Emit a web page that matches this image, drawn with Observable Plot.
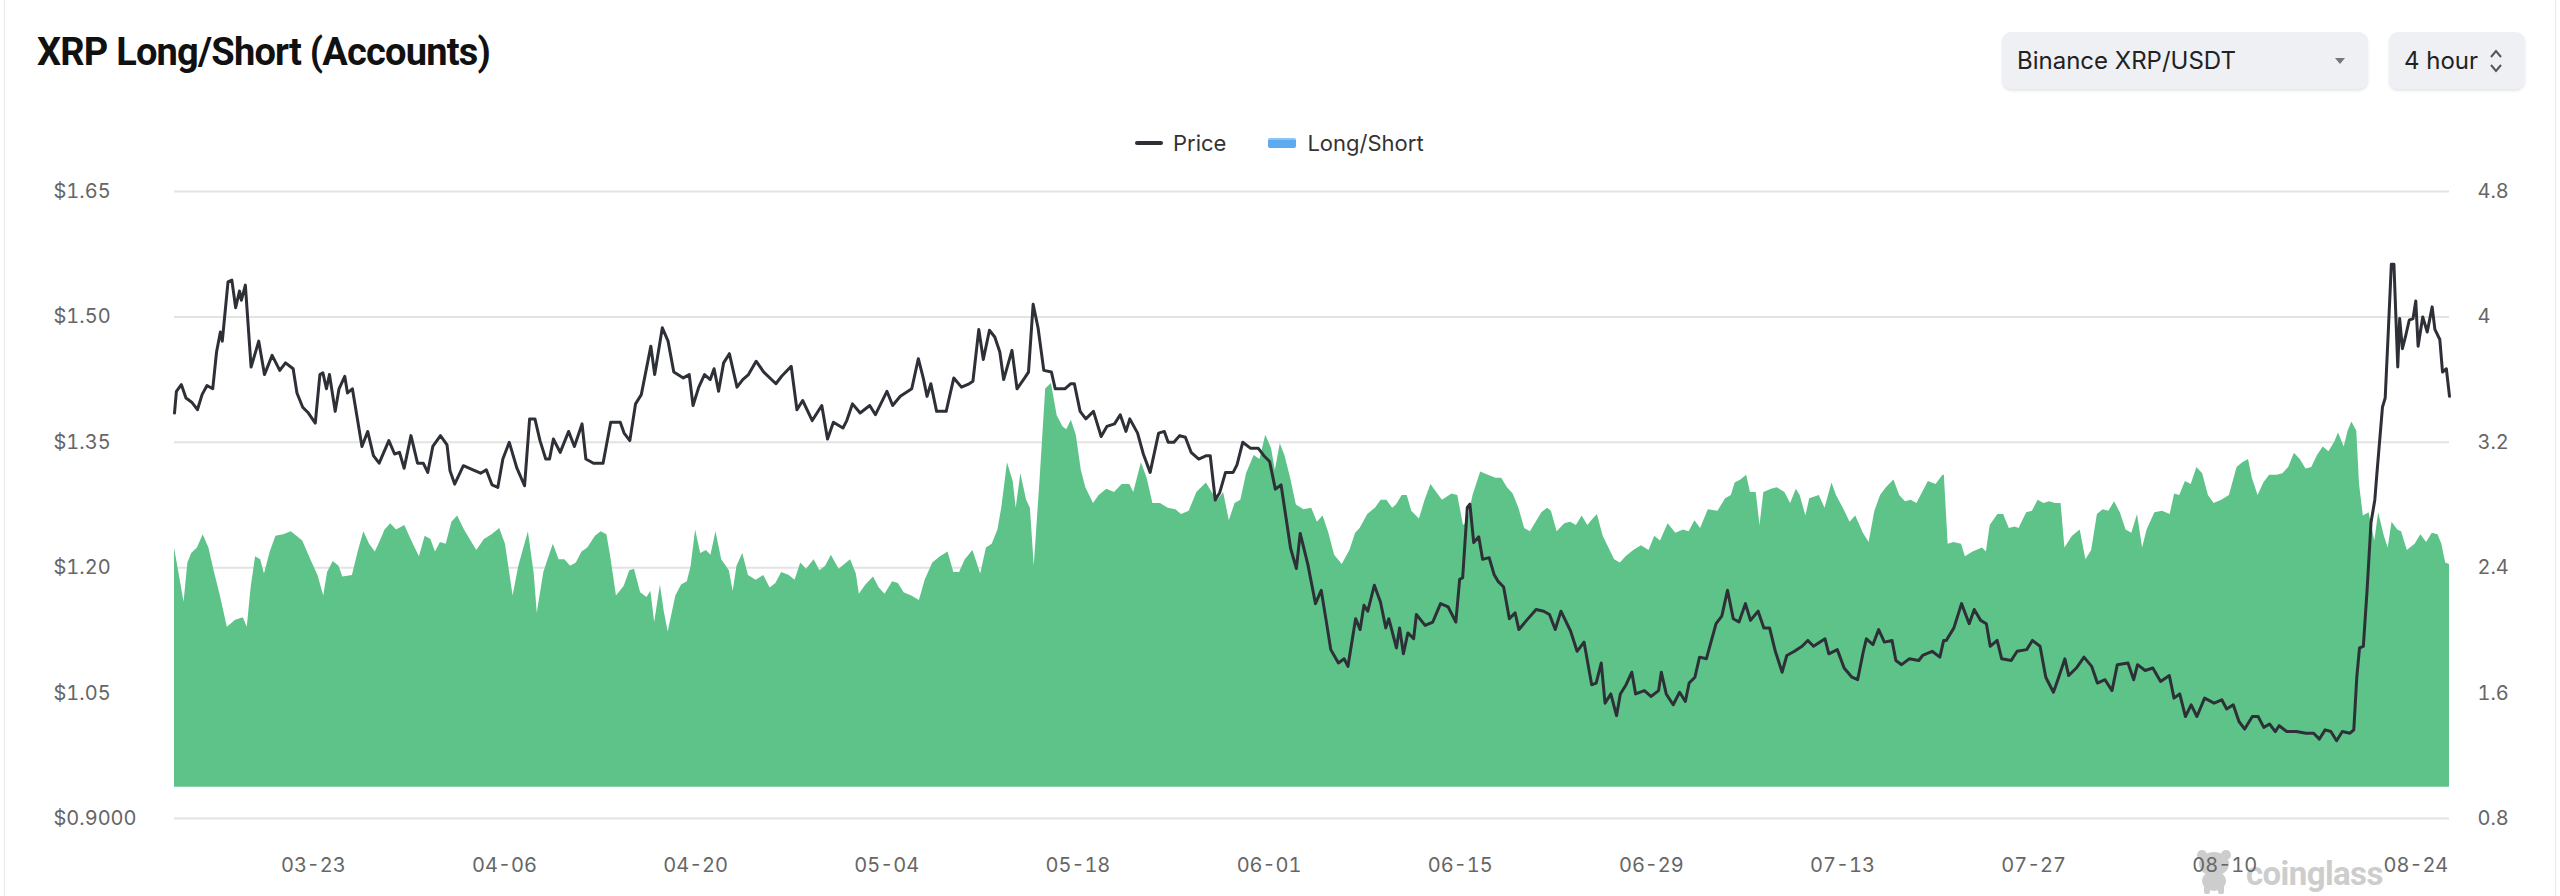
<!DOCTYPE html>
<html>
<head>
<meta charset="utf-8">
<script src="https://cdn.jsdelivr.net/npm/d3@7"></script>
<script src="https://cdn.jsdelivr.net/npm/@observablehq/plot@0.6"></script>
<style>
  html, body { margin: 0; padding: 0; background: #fff; }
  #page { position: relative; width: 2560px; height: 896px; overflow: hidden; font-family: Inter, "Noto Sans", sans-serif; }
  .card { position: absolute; left: 4px; right: 4px; top: -20px; bottom: -20px; border: 1px solid #e9e9e9; border-radius: 12px; }
  .title { position: absolute; left: 37px; top: 33px; font-family: Roboto, sans-serif; font-weight: 700; font-size: 38px; line-height: 38px; letter-spacing: -0.8px; color: #111; white-space: nowrap; }
  .sel { position: absolute; top: 32px; height: 57px; background: #eef0f3; border-radius: 9px; box-shadow: 0 2px 3px rgba(0,0,0,0.10); box-sizing: border-box; display: flex; align-items: center; font-size: 24px; color: #222; }
  .sel1 { left: 2002px; width: 366px; padding-left: 15px; }
  .sel2 { left: 2389px; width: 136px; padding-left: 15px; }
  .caret { position: absolute; left: 333px; top: 26px; width: 0; height: 0; border-left: 5px solid transparent; border-right: 5px solid transparent; border-top: 6px solid #777; }
  .chev { position: absolute; left: 100px; top: 16px; }
  .legend { position: absolute; top: 132px; left: 1135px; height: 22px; display: flex; align-items: center; font-size: 22px; color: #333; white-space: nowrap; }
  .lg-line { width: 28px; height: 4px; background: #2d3037; border-radius: 2px; margin-right: 10px; }
  .lg-area { width: 28px; height: 10px; background: #5eaaf0; border-top: 2px solid #8cc4f6; box-sizing: border-box; border-radius: 2px; margin-left: 42px; margin-right: 11px; }
  #chart { position: absolute; left: 0; top: 160px; }
  .wm { position: absolute; left: 2192px; top: 850px; display: flex; align-items: flex-end; }
  .wm-text { font-family: Roboto, sans-serif; font-weight: 700; font-size: 33px; line-height: 33px; color: #cdcdcd; letter-spacing: -0.6px; margin-left: 10px; margin-bottom: 4px; }
</style>
</head>
<body>
<div id="page">
  <div class="card"></div>
  <div class="wm">
    <svg width="44" height="44" viewBox="0 0 44 44">
      <ellipse cx="22" cy="14" rx="15" ry="12" fill="#cdcdcd"/>
      <circle cx="10" cy="5" r="5" fill="#cdcdcd"/>
      <circle cx="34" cy="5" r="5" fill="#cdcdcd"/>
      <ellipse cx="22" cy="31" rx="12" ry="10" fill="#cdcdcd"/>
      <rect x="12" y="36" width="6" height="8" rx="2" fill="#cdcdcd"/>
      <rect x="26" y="36" width="6" height="8" rx="2" fill="#cdcdcd"/>
    </svg>
    <div class="wm-text">coinglass</div>
  </div>
  <div class="title">XRP Long/Short (Accounts)</div>
  <div class="sel sel1"><span>Binance XRP/USDT</span><span class="caret"></span></div>
  <div class="sel sel2"><span>4 hour</span>
    <svg class="chev" width="14" height="26" viewBox="0 0 14 26">
      <path d="M2 9 L7 3 L12 9" fill="none" stroke="#555" stroke-width="2"/>
      <path d="M2 17 L7 23 L12 17" fill="none" stroke="#555" stroke-width="2"/>
    </svg>
  </div>
  <div class="legend">
    <span class="lg-line"></span><span>Price</span>
    <span class="lg-area"></span><span>Long/Short</span>
  </div>
  <div id="chart"></div>
</div>
<script>
// ---- Data (time in days relative to 2025-03-23 00:00 UTC, 4-hour candles sampled at visible turning points) ----
const priceDay = [
-10.17,-10.03,-9.67,-9.33,-8.91,-8.49,-8.15,-7.79,-7.37,-7.09,-6.81,-6.67,-6.25,-5.97,-5.69,-5.41,-5.27,-4.98,-4.56,-4.0,
-3.58,-3.02,-2.46,-2.04,-1.48,-1.2,-0.78,-0.36,0.14,0.48,0.7,0.96,1.18,1.6,1.88,2.3,2.5,2.86,3.56,3.98,
4.4,4.82,5.53,5.95,6.31,6.65,7.15,7.63,8.05,8.38,8.75,9.31,9.79,10.01,10.35,10.99,11.69,12.25,12.67,13.09,
13.51,13.88,14.35,14.91,15.47,15.84,16.23,16.6,17.02,17.3,17.58,18.08,18.7,19.12,19.68,19.96,20.52,21.22,21.78,22.48,
22.76,23.18,23.6,24.02,24.72,25.0,25.56,25.98,26.4,27.1,27.53,27.81,28.23,28.65,29.07,29.35,29.68,30.05,30.47,31.03,
31.45,31.87,32.43,32.99,33.88,34.3,35.0,35.42,35.84,36.54,37.24,37.66,38.09,38.79,39.07,39.49,40.05,40.75,41.17,42.01,
42.43,42.99,43.83,44.31,44.67,44.95,45.23,45.65,46.35,46.91,47.47,48.03,48.31,48.74,49.07,49.52,49.91,50.28,50.56,51.17,
51.54,52.1,52.38,52.72,53.08,53.5,54.06,54.34,55.04,55.46,55.74,56.16,56.58,57.14,57.7,58.12,58.68,59.1,59.52,59.8,
60.37,60.79,61.29,61.91,62.33,62.61,63.03,63.45,63.87,64.29,64.85,65.41,65.69,66.06,66.39,66.81,67.37,67.65,68.07,68.63,
69.2,69.62,70.04,70.46,70.88,71.58,72.0,72.28,72.84,73.4,73.82,74.18,74.52,75.08,75.5,75.78,76.34,76.67,76.95,77.23,
77.71,78.16,78.55,78.77,79.33,79.56,79.84,80.17,80.59,80.79,81.43,81.99,82.56,83.12,83.68,83.96,84.18,84.52,84.71,84.99,
85.36,85.64,86.12,86.48,86.76,87.18,87.6,88.02,88.3,88.86,89.56,90.12,90.54,90.96,91.38,92.09,92.56,93.07,93.63,93.96,
94.33,94.61,95.03,95.45,95.73,96.15,96.57,96.85,97.49,97.97,98.53,98.73,99.09,99.6,100.07,100.49,100.77,101.19,101.53,102.03,
102.74,103.16,103.58,104.0,104.42,104.89,105.26,105.82,106.24,106.66,107.08,107.58,107.92,108.48,109.04,109.46,109.88,110.72,111.0,111.62,
112.12,112.69,113.11,113.53,113.75,114.23,114.65,115.07,115.63,115.91,116.33,116.89,117.59,117.87,118.57,119.13,119.41,119.6,120.16,120.72,
121.28,121.65,122.12,122.54,122.82,123.33,123.66,124.36,124.79,125.49,125.91,126.47,126.89,127.45,127.73,128.29,128.57,129.13,129.69,130.25,
130.67,131.23,131.74,132.13,132.91,133.33,133.61,134.17,134.73,135.3,135.94,136.28,136.7,137.12,137.54,137.96,138.52,139.22,139.78,140.14,
140.62,141.04,141.46,142.02,142.44,142.86,143.28,143.7,143.98,144.54,145.24,145.95,146.51,146.93,147.35,147.77,148.19,148.61,149.17,149.45,
149.67,149.87,150.15,150.43,150.71,150.99,151.13,151.55,151.75,151.97,152.2,152.39,152.67,152.81,153.01,153.23,153.51,153.79,153.99,154.16,
154.5,154.83,155.19,155.39,155.75,155.95,156.23,156.46
];
const priceValue = [
1.385,1.411,1.419,1.403,1.398,1.389,1.407,1.418,1.414,1.458,1.482,1.471,1.542,1.544,1.511,1.531,1.520,1.538,1.440,1.471,
1.431,1.454,1.436,1.445,1.438,1.409,1.392,1.385,1.373,1.431,1.433,1.414,1.431,1.387,1.414,1.429,1.409,1.414,1.345,1.363,
1.334,1.325,1.352,1.336,1.338,1.319,1.358,1.325,1.325,1.314,1.345,1.358,1.347,1.316,1.300,1.322,1.317,1.313,1.317,1.299,
1.296,1.330,1.350,1.319,1.298,1.378,1.378,1.352,1.330,1.330,1.354,1.338,1.363,1.345,1.372,1.330,1.325,1.325,1.374,1.374,
1.361,1.352,1.396,1.407,1.465,1.431,1.487,1.471,1.434,1.427,1.431,1.394,1.416,1.431,1.425,1.438,1.411,1.445,1.456,1.416,
1.425,1.431,1.447,1.434,1.420,1.429,1.441,1.389,1.400,1.376,1.394,1.354,1.374,1.367,1.376,1.396,1.385,1.394,1.383,1.411,
1.394,1.405,1.414,1.450,1.427,1.405,1.420,1.387,1.387,1.427,1.416,1.420,1.423,1.485,1.449,1.484,1.476,1.458,1.425,1.460,
1.414,1.427,1.434,1.515,1.487,1.436,1.434,1.414,1.414,1.420,1.420,1.387,1.378,1.387,1.357,1.369,1.372,1.383,1.363,1.378,
1.361,1.336,1.314,1.361,1.363,1.350,1.350,1.358,1.356,1.338,1.330,1.334,1.334,1.281,1.290,1.314,1.314,1.323,1.350,1.343,
1.343,1.334,1.327,1.294,1.299,1.223,1.199,1.241,1.204,1.157,1.173,1.137,1.102,1.086,1.091,1.082,1.139,1.126,1.155,1.148,
1.179,1.159,1.128,1.139,1.104,1.128,1.097,1.122,1.115,1.144,1.131,1.135,1.157,1.153,1.135,1.186,1.188,1.272,1.276,1.230,
1.237,1.210,1.212,1.192,1.184,1.177,1.139,1.146,1.126,1.137,1.150,1.148,1.144,1.126,1.148,1.124,1.100,1.111,1.060,1.062,
1.086,1.038,1.049,1.023,1.049,1.060,1.075,1.049,1.053,1.046,1.053,1.075,1.049,1.036,1.051,1.040,1.062,1.069,1.093,1.091,
1.133,1.142,1.173,1.139,1.135,1.157,1.137,1.148,1.128,1.128,1.100,1.075,1.095,1.100,1.106,1.113,1.106,1.115,1.097,1.102,
1.080,1.069,1.066,1.100,1.115,1.108,1.126,1.111,1.113,1.089,1.084,1.091,1.089,1.095,1.100,1.093,1.113,1.113,1.128,1.157,
1.133,1.150,1.137,1.133,1.106,1.113,1.091,1.089,1.100,1.102,1.113,1.106,1.069,1.051,1.064,1.091,1.071,1.080,1.093,1.082,
1.062,1.066,1.053,1.084,1.086,1.066,1.084,1.077,1.080,1.064,1.071,1.044,1.049,1.022,1.036,1.022,1.044,1.038,1.042,1.031,
1.036,1.016,1.007,1.022,1.022,1.009,1.013,1.004,1.011,1.004,1.004,1.002,1.002,0.995,1.006,1.004,0.993,1.004,1.002,1.006,
1.069,1.104,1.106,1.175,1.254,1.281,1.310,1.392,1.403,1.480,1.563,1.563,1.440,1.498,1.462,1.476,1.496,1.498,1.519,1.465,
1.500,1.482,1.512,1.485,1.473,1.434,1.438,1.405
];
const lsDay = [
-10.17,-9.83,-9.47,-9.19,-8.91,-8.49,-8.07,-7.65,-7.27,-6.81,-6.3,-5.69,-5.13,-4.84,-4.56,-4.23,-3.86,-3.58,-3.16,-2.74,
-2.18,-1.62,-1.2,-0.78,-0.08,0.34,0.76,1.04,1.46,1.88,2.16,2.86,3.28,3.7,4.12,4.54,4.91,5.25,5.67,6.09,
6.7,7.21,7.77,8.19,8.61,8.94,9.31,9.73,10.15,10.57,11.07,11.55,11.97,12.53,13.09,13.65,14.07,14.63,15.05,15.75,
16.18,16.4,16.88,17.3,17.58,18.0,18.42,18.84,19.26,19.68,20.1,20.66,21.08,21.5,21.78,22.2,22.76,23.18,23.52,23.97,
24.44,24.72,25.0,25.42,25.7,25.99,26.55,26.97,27.39,27.67,28.0,28.37,28.79,29.12,29.49,29.91,30.47,30.75,31.03,31.45,
31.87,32.43,32.99,33.46,33.88,34.3,34.86,35.28,35.7,36.12,36.68,37.1,37.52,37.94,38.51,39.35,39.77,39.99,40.47,41.03,
41.45,41.87,42.43,42.85,43.27,43.83,44.39,44.81,45.37,45.93,46.49,46.91,47.33,47.75,48.31,48.88,49.3,49.72,50.14,50.42,
50.84,51.26,51.48,51.82,52.24,52.52,52.8,53.22,53.64,54.06,54.48,54.9,55.18,55.52,55.88,56.25,56.58,57.14,57.56,58.12,
58.68,59.24,59.8,60.09,60.65,61.07,61.49,62.05,62.61,63.17,63.59,64.15,64.71,65.41,65.83,66.25,66.67,67.09,67.51,67.93,
68.35,68.91,69.33,69.76,70.18,70.46,70.82,71.16,71.58,72.0,72.56,73.12,73.54,73.96,74.38,74.8,75.36,75.92,76.34,76.67,
77.23,77.79,78.21,78.63,79.05,79.33,79.75,80.12,80.45,81.01,81.43,81.86,82.28,82.7,83.4,83.82,84.24,84.52,84.94,85.5,
86.06,86.62,87.04,87.46,87.88,88.3,88.72,89.14,89.56,89.98,90.4,90.68,91.1,91.66,92.09,92.51,92.93,93.35,93.63,94.05,
94.47,94.89,95.31,95.73,96.15,96.71,97.27,97.83,98.25,98.67,99.23,99.79,100.35,100.77,101.19,101.61,102.17,102.88,103.44,103.86,
104.14,104.56,104.98,105.26,105.68,105.96,106.24,106.8,107.22,107.78,108.2,108.62,108.9,109.32,109.6,110.3,110.72,111.23,111.56,112.12,
112.55,112.97,113.53,113.95,114.37,114.79,115.21,115.77,116.19,116.61,117.03,117.45,117.87,118.29,118.85,119.36,119.46,119.74,120.16,120.72,
121.0,121.56,122.26,122.54,122.82,123.38,123.8,124.22,124.65,124.93,125.49,125.91,126.33,126.75,127.17,127.59,128.01,128.29,128.85,129.41,
129.83,130.25,130.67,131.09,131.51,131.93,132.35,132.77,133.19,133.61,133.98,134.31,134.88,135.44,136.0,136.33,136.7,137.12,137.54,137.96,
138.38,138.8,139.22,139.78,140.34,140.9,141.32,141.74,142.02,142.44,142.86,143.28,143.84,144.26,144.68,145.1,145.53,145.95,146.37,146.79,
147.21,147.63,148.05,148.33,148.75,149.03,149.31,149.67,149.87,150.15,150.57,150.99,151.27,151.69,151.97,152.25,152.67,152.95,153.37,153.94,
154.36,154.78,155.2,155.62,155.9,156.18,156.46
];
const lsValue = [
2.525,2.36,2.18,2.43,2.49,2.525,2.61,2.525,2.38,2.22,2.02,2.065,2.08,2.02,2.27,2.47,2.45,2.36,2.50,2.60,
2.61,2.63,2.60,2.57,2.43,2.35,2.22,2.37,2.44,2.41,2.34,2.35,2.50,2.63,2.55,2.50,2.57,2.64,2.68,2.64,
2.67,2.57,2.47,2.60,2.58,2.50,2.56,2.55,2.69,2.73,2.64,2.57,2.51,2.58,2.61,2.65,2.55,2.22,2.41,2.63,
2.36,2.11,2.37,2.48,2.55,2.45,2.45,2.41,2.43,2.50,2.525,2.60,2.63,2.61,2.47,2.22,2.28,2.38,2.39,2.24,
2.21,2.25,2.05,2.29,2.12,1.99,2.22,2.29,2.31,2.41,2.64,2.49,2.51,2.48,2.63,2.45,2.38,2.25,2.41,2.49,
2.35,2.32,2.35,2.27,2.30,2.37,2.35,2.32,2.43,2.39,2.45,2.38,2.41,2.48,2.39,2.45,2.36,2.23,2.29,2.34,
2.27,2.23,2.31,2.30,2.24,2.22,2.19,2.32,2.43,2.47,2.50,2.37,2.37,2.45,2.51,2.36,2.525,2.55,2.64,2.78,
3.07,2.95,2.78,3.00,2.83,2.78,2.41,2.95,3.54,3.575,3.37,3.30,3.28,3.34,3.245,3.02,2.91,2.81,2.86,2.90,
2.88,2.93,2.93,2.88,3.07,2.97,2.81,2.81,2.78,2.77,2.74,2.76,2.88,2.94,2.88,2.83,2.88,2.70,2.81,2.83,
3.00,3.115,3.09,3.245,3.16,3.02,3.19,3.115,2.97,2.80,2.77,2.78,2.69,2.73,2.62,2.48,2.42,2.51,2.62,2.65,
2.74,2.78,2.83,2.83,2.78,2.80,2.86,2.86,2.76,2.71,2.83,2.93,2.88,2.83,2.87,2.86,2.67,2.69,2.86,3.01,
2.99,2.97,2.97,2.91,2.87,2.78,2.65,2.63,2.69,2.75,2.78,2.76,2.63,2.68,2.69,2.67,2.73,2.67,2.70,2.74,
2.60,2.525,2.45,2.43,2.47,2.51,2.54,2.51,2.60,2.57,2.68,2.62,2.64,2.63,2.70,2.65,2.77,2.76,2.84,2.86,
2.94,2.96,2.99,2.88,2.88,2.67,2.88,2.90,2.91,2.88,2.81,2.90,2.86,2.73,2.84,2.86,2.78,2.94,2.86,2.77,
2.69,2.73,2.62,2.56,2.76,2.86,2.91,2.96,2.86,2.82,2.83,2.81,2.88,2.95,2.93,2.99,2.99,2.55,2.56,2.55,
2.47,2.50,2.525,2.50,2.67,2.74,2.74,2.65,2.66,2.65,2.75,2.76,2.83,2.81,2.82,2.81,2.81,2.525,2.60,2.64,
2.45,2.51,2.74,2.77,2.76,2.82,2.75,2.64,2.62,2.74,2.525,2.64,2.75,2.76,2.74,2.87,2.86,2.95,2.93,3.04,
3.00,2.86,2.81,2.83,2.86,3.04,3.07,3.09,2.97,2.86,2.94,2.99,2.99,3.00,3.04,3.13,3.09,3.03,3.04,3.115,
3.17,3.14,3.20,3.26,3.17,3.27,3.33,3.27,2.93,2.73,2.75,2.57,2.75,2.60,2.525,2.69,2.64,2.63,2.51,2.55,
2.61,2.56,2.62,2.61,2.55,2.43,2.42
];
const lsBase = 1.0;                       // fill floor of the Long/Short area (right scale)
const xDomainDays = [-10.17, 156.46];
const xTickLabels = ["03-23","04-06","04-20","05-04","05-18","06-01","06-15","06-29","07-13","07-27","08-10","08-24"];
const priceTicks = [0.9, 1.05, 1.2, 1.35, 1.5, 1.65];
const priceTickLabels = ["$0.9000","$1.05","$1.20","$1.35","$1.50","$1.65"];
const lsTicks = [0.8, 1.6, 2.4, 3.2, 4, 4.8];
const lsTickLabels = ["0.8","1.6","2.4","3.2","4","4.8"];
const year = 2025;

// ---- Build ----
const t0 = Date.UTC(year, 2, 23);
const toDate = d => new Date(t0 + d * 864e5);
// right axis (Long/Short) mapped onto the left (price) scale
const pMin = priceTicks[0], pMax = priceTicks[priceTicks.length - 1];
const lMin = lsTicks[0], lMax = lsTicks[lsTicks.length - 1];
const lsToPrice = v => pMin + (v - lMin) * (pMax - pMin) / (lMax - lMin);

const priceData = priceDay.map((d, i) => ({date: toDate(d), price: priceValue[i]}));
const lsData = lsDay.map((d, i) => ({date: toDate(d), ls: lsValue[i]}));
const xTicks = xTickLabels.map(s => new Date(`${year}-${s}T00:00:00Z`));
const rightTicks = lsTicks.map(lsToPrice);

const chart = Plot.plot({
  width: 2560,
  height: 736,
  marginLeft: 174,
  marginRight: 111,
  marginTop: 31,
  marginBottom: 78,
  style: {background: "transparent", fontFamily: "Inter, 'Noto Sans', sans-serif", fontSize: "20px", color: "#666"},
  x: {type: "utc", domain: xDomainDays.map(toDate)},
  y: {domain: [pMin, pMax]},
  marks: [
    Plot.gridY(priceTicks, {stroke: "#e3e3e3", strokeOpacity: 1, strokeWidth: 2}),
    Plot.areaY(lsData, {x: "date", y1: () => lsToPrice(lsBase), y2: d => lsToPrice(d.ls), fill: "#5dc389", fillOpacity: 1}),
    Plot.line(priceData, {x: "date", y: "price", stroke: "#2d3037", strokeWidth: 3, strokeLinejoin: "round"}),
    Plot.axisY(priceTicks, {anchor: "left", tickSize: 0, tickPadding: 0, textAnchor: "start", dx: 53 - 174,
      tickFormat: (d) => priceTickLabels[priceTicks.indexOf(d)], fontSize: 20, label: null}),
    Plot.axisY(rightTicks, {anchor: "right", tickSize: 0, tickPadding: 28, textAnchor: "start",
      tickFormat: (d, i) => lsTickLabels[rightTicks.indexOf(d)], fontSize: 20, label: null}),
    Plot.axisX(xTicks, {anchor: "bottom", tickSize: 0, tickPadding: 39,
      tickFormat: d => xTickLabels[xTicks.findIndex(t => +t === +d)], fontSize: 20, label: null})
  ]
});
document.getElementById("chart").appendChild(chart);
</script>
</body>
</html>
